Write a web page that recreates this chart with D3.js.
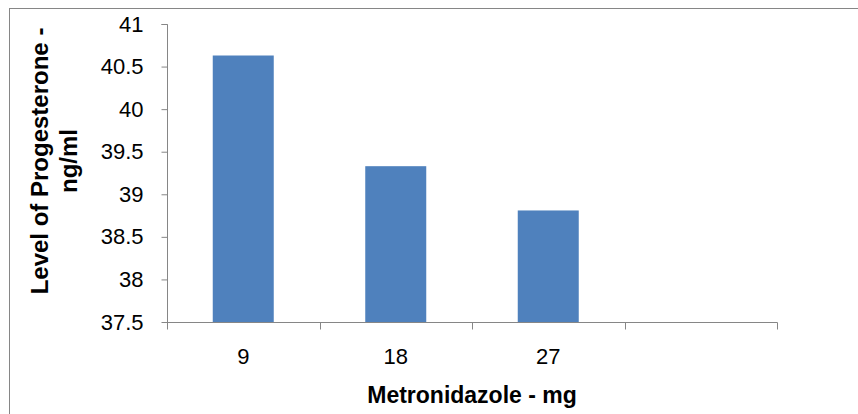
<!DOCTYPE html>
<html>
<head>
<meta charset="utf-8">
<script src="https://cdn.jsdelivr.net/npm/d3@7"></script>
<style>
  html, body { margin: 0; padding: 0; background: #fff; }
  svg { display: block; }
  text { font-family: "Liberation Sans", Arial, sans-serif; fill: #000; }
</style>
</head>
<body>
<svg id="chart" width="858" height="414"></svg>
<script>
// Data
const categories = ["9", "18", "27", ""];
const values = [40.63, 39.33, 38.81];
const yTicks = [37.5, 38, 38.5, 39, 39.5, 40, 40.5, 41];
const xTitle = "Metronidazole - mg";
const yTitleLines = ["Level of Progesterone -", "ng/ml"];

const svg = d3.select("#chart");
const axisColor = "#868686";
const barColor = "#4f81bd";

const plot = { left: 167, right: 777, top: 24, bottom: 322 };

// outer chart border (only left/top visible in frame)
svg.append("rect")
  .attr("x", 9.5).attr("y", 8.5)
  .attr("width", 1000).attr("height", 1000)
  .attr("fill", "none").attr("stroke", axisColor).attr("stroke-width", 1);

const x = d3.scaleBand()
  .domain(categories)
  .range([plot.left, plot.right])
  .paddingInner(0.6)
  .paddingOuter(0.3);

const y = d3.scaleLinear()
  .domain([37.5, 41])
  .range([plot.bottom, plot.top]);

// bars
svg.append("g").selectAll("rect")
  .data(values)
  .join("rect")
  .attr("x", (d, i) => x(categories[i]))
  .attr("y", d => y(d))
  .attr("width", x.bandwidth())
  .attr("height", d => y(37.5) - y(d))
  .attr("fill", barColor);

// y axis
const yAxis = svg.append("g")
  .attr("transform", `translate(${plot.left + 0.5},0)`)
  .call(d3.axisLeft(y).tickValues(yTicks).tickSize(6).tickPadding(18)
    .tickFormat(d => String(d)));
yAxis.select(".domain").attr("stroke", axisColor).attr("d", `M-6,${y(41)+0.5}H0V${y(37.5)+0.5}`);
yAxis.selectAll(".tick line").attr("stroke", axisColor);
yAxis.selectAll(".tick").attr("transform", d => `translate(0,${y(d) + 0.5})`);
yAxis.selectAll(".tick text")
  .attr("font-size", 22).attr("font-family", "Liberation Sans, Arial, sans-serif").attr("fill", "#000");

// x axis line
const xAxis = svg.append("g").attr("transform", `translate(0,${plot.bottom + 0.5})`);
xAxis.append("line")
  .attr("x1", plot.left).attr("x2", plot.right + 0.5)
  .attr("stroke", axisColor);
// boundary ticks
const step = x.step();
const bounds = d3.range(categories.length + 1).map(i =>
  i < categories.length ? x(categories[i]) - (step - x.bandwidth()) / 2
                        : x(categories[categories.length - 1]) + x.bandwidth() + (step - x.bandwidth()) / 2);
xAxis.selectAll("line.tk")
  .data(bounds)
  .join("line")
  .attr("class", "tk")
  .attr("x1", d => Math.round(d) + 0.5).attr("x2", d => Math.round(d) + 0.5)
  .attr("y1", 0).attr("y2", 7)
  .attr("stroke", axisColor);
// labels
svg.append("g").selectAll("text")
  .data(categories)
  .join("text")
  .attr("x", d => x(d) + x.bandwidth() / 2)
  .attr("y", 364)
  .attr("text-anchor", "middle")
  .attr("font-size", 22)
  .text(d => d);

// x title
svg.append("text")
  .attr("x", (plot.left + plot.right) / 2)
  .attr("y", 403)
  .attr("text-anchor", "middle")
  .attr("font-size", 23)
  .attr("font-weight", "bold")
  .text(xTitle);

// y title
const yTitleX = [48, 77];
yTitleLines.forEach((t, i) => {
  svg.append("text")
    .attr("transform", `translate(${yTitleX[i]},161) rotate(-90)`)
    .attr("text-anchor", "middle")
    .attr("font-size", 24)
    .attr("font-weight", "bold")
    .text(t);
});
</script>
</body>
</html>
